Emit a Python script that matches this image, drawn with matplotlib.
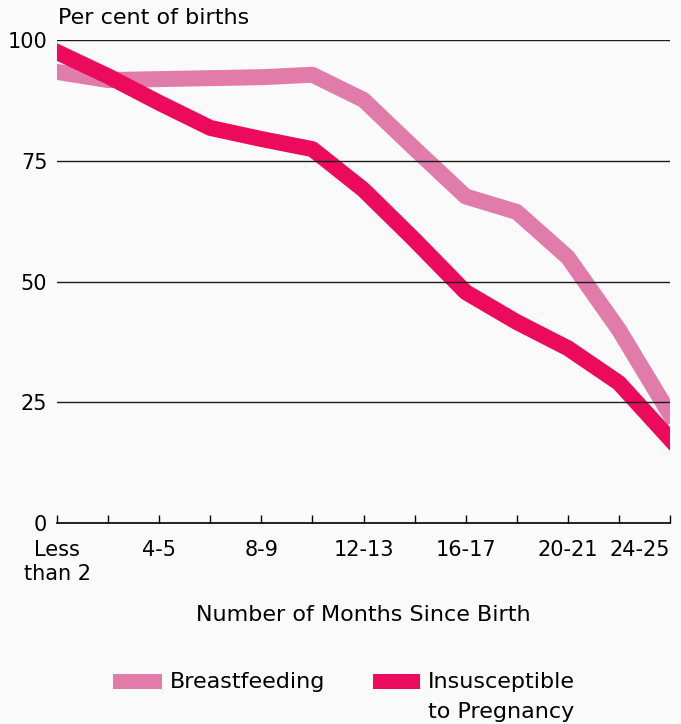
import numpy as np
import matplotlib
matplotlib.use('Agg')
from matplotlib import pyplot as plt
from matplotlib.patches import Rectangle

plt.rc('font', family='DejaVu Sans', size=14)

# data
months = ['Less\nthan 2', '2-3', '4-5', '6-7', '8-9', '10-11', '12-13',
          '14-15', '16-17', '18-19', '20-21', '22-23', '24-25']
shown = ['Less\nthan 2', '4-5', '8-9', '12-13', '16-17', '20-21', '24-25']
breastfeeding = [93.4, 91.7, 91.9, 92.1, 92.3, 92.8, 87.6, 77.5, 67.6, 64.4, 55.0, 40.0, 22.5]
insusceptible = [97.5, 92.5, 87.0, 81.8, 79.5, 77.4, 69.0, 58.6, 47.8, 41.6, 36.2, 29.0, 17.4]
yticks = [0, 25, 50, 75, 100]

light = '#E07BAA'
dark = '#EB0A5C'
bg = '#FAFAFA'
fs = 16

W, H = 681, 724
fig = plt.figure(figsize=(W/100, H/100), dpi=100, facecolor=bg)
ax = fig.add_axes([57/W, 1-523/H, (670-57)/W, (523-40)/H])
ax.set_facecolor(bg)

x = np.arange(len(months))
ax.plot(x, breastfeeding, color=light, lw=11.5, solid_capstyle='projecting',
        solid_joinstyle='round', zorder=2)
ax.plot(x, insusceptible, color=dark, lw=11.5, solid_capstyle='projecting',
        solid_joinstyle='round', zorder=2.1)

ax.set_xlim(0, len(months)-1)
ax.set_ylim(0, 100)
ax.set_axisbelow(False)

ax.set_yticks(yticks)
ax.set_yticklabels([str(v) for v in yticks])
ax.yaxis.grid(True, color='#1a1a1a', lw=1.0, zorder=3)
ax.tick_params(axis='y', length=0, pad=7, labelsize=15)

ax.set_xticks(x)
ax.set_xticklabels([m if m in shown else '' for m in months], linespacing=1.3)
ax.tick_params(axis='x', direction='in', length=6, width=1, pad=12, labelsize=15)
ax.get_xticklabels()[-1].set_ha('right')

for s in ['top', 'right', 'left']:
    ax.spines[s].set_visible(False)
ax.spines['bottom'].set_linewidth(1.2)

ax.set_xlabel('Number of Months Since Birth', fontsize=fs, labelpad=15)
fig.text(58/W, 1-18/H, 'Per cent of births', fontsize=fs, va='center', ha='left')

# legend
fig.add_artist(Rectangle((113/W, 1-689/H), 49/W, 15/H, transform=fig.transFigure,
                         facecolor=light, edgecolor='none'))
fig.text(170/W, 1-682/H, 'Breastfeeding', fontsize=fs, va='center', ha='left')
fig.add_artist(Rectangle((373/W, 1-689/H), 47/W, 15/H, transform=fig.transFigure,
                         facecolor=dark, edgecolor='none'))
fig.text(428/W, 1-682/H, 'Insusceptible', fontsize=fs, va='center', ha='left')
fig.text(428/W, 1-712/H, 'to Pregnancy', fontsize=fs, va='center', ha='left')

fig.savefig('out.png', dpi=100, facecolor=bg)
